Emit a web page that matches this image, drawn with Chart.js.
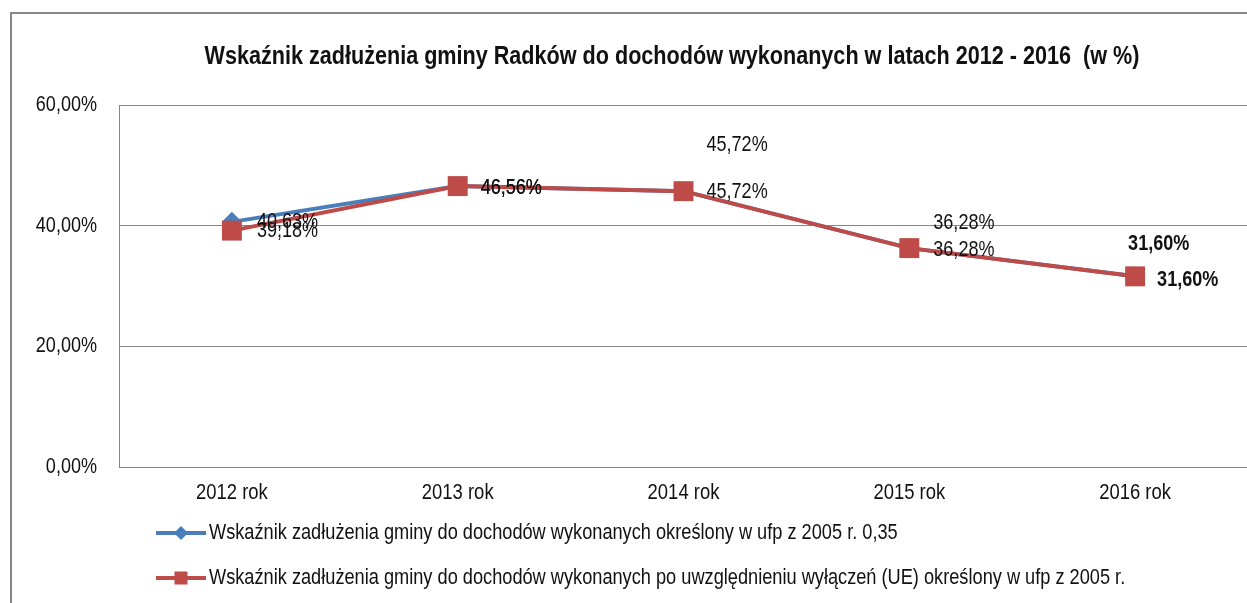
<!DOCTYPE html>
<html><head><meta charset="utf-8">
<script src="https://cdn.jsdelivr.net/npm/chart.js@4.4.0/dist/chart.umd.min.js"></script>
<style>
html,body{margin:0;padding:0;background:#fff;overflow:hidden;width:1247px;height:603px;}
#frame{position:absolute;left:10px;top:12px;width:1400px;height:700px;border-left:2px solid #878787;border-top:2px solid #878787;}
#wrap{position:absolute;left:0;top:0;width:1344px;height:603px;}
</style></head><body>
<div id="frame"></div>
<div id="wrap"><canvas id="c" width="1344" height="603"></canvas></div>
<script>
const titleText = 'Wskaźnik zadłużenia gminy Radków do dochodów wykonanych w latach 2012 - 2016  (w %)';
const categories = ['2012 rok', '2013 rok', '2014 rok', '2015 rok', '2016 rok'];
const seriesNames = [
  'Wskaźnik zadłużenia gminy do dochodów wykonanych określony w ufp z 2005 r. 0,35',
  'Wskaźnik zadłużenia gminy do dochodów wykonanych po uwzględnieniu wyłączeń (UE) określony w ufp z 2005 r.'
];
const blueValues = [40.63, 46.56, 45.72, 36.28, 31.60];
const redValues = [39.18, 46.56, 45.72, 36.28, 31.60];
const yTicks = [0, 20, 40, 60];

// label placement (style/layout only)
const blueLabelOffsets = [[25, 0], [23, 2], [23, -46], [24, -25], [-7, -32]];
const redLabelOffsets = [[25, 0], [23, 2], [23, 1], [24, 2], [22, 4]];
const boldLabel = [false, false, false, false, true];

const FONT = "'Liberation Sans', Arial, sans-serif";
const NARROW = 0.82;   // Arial Narrow look
const TEXT = '#111';
const BLUE = '#4A7EBB';
const RED = '#BE4B48';
const fmt = v => v.toFixed(2).replace('.', ',') + '%';

function narrowText(ctx, text, x, y, align, font, sx) {
  ctx.save();
  ctx.font = font;
  ctx.textAlign = align;
  ctx.textBaseline = 'middle';
  ctx.fillStyle = TEXT;
  ctx.translate(x, y);
  ctx.scale(sx, 1);
  ctx.fillText(text, 0, 0);
  ctx.restore();
}

const titlePlugin = {
  id: 'narrowTitle',
  afterDraw(chart) {
    const ctx = chart.ctx;
    const font = 'bold 26px ' + FONT;
    ctx.save();
    ctx.font = font;
    const w = ctx.measureText(titleText).width;
    ctx.restore();
    const sx = 935 / w;
    narrowText(ctx, titleText, chart.width / 2, 57, 'center', font, sx);
  }
};

const tickPlugin = {
  id: 'narrowTicks',
  afterDraw(chart) {
    const ctx = chart.ctx;
    const ys = chart.scales.y;
    ys.ticks.forEach((t, i) => {
      narrowText(ctx, fmt(t.value), ys.right - 22, ys.getPixelForTick(i), 'right', '22px ' + FONT, NARROW);
    });
    const xs = chart.scales.x;
    xs.ticks.forEach((t, i) => {
      narrowText(ctx, categories[i], xs.getPixelForTick(i), xs.top + 26, 'center', '22.5px ' + FONT, NARROW);
    });
  }
};

const labelPlugin = {
  id: 'valueLabels',
  afterDatasetsDraw(chart) {
    const ctx = chart.ctx;
    chart.data.datasets.forEach((ds, di) => {
      const meta = chart.getDatasetMeta(di);
      const offs = ds.labelOffsets;
      meta.data.forEach((pt, i) => {
        const font = (boldLabel[i] ? 'bold ' : '') + '22px ' + FONT;
        narrowText(ctx, fmt(ds.data[i]), pt.x + offs[i][0], pt.y + offs[i][1], 'left', font, NARROW);
      });
    });
  }
};

const legendPlugin = {
  id: 'customLegend',
  afterDraw(chart) {
    const ctx = chart.ctx;
    const L = chart.chartArea.left;
    const B = chart.chartArea.bottom;
    const rows = [B + 66, B + 111];
    chart.data.datasets.forEach((ds, i) => {
      const y = rows[i];
      ctx.save();
      ctx.strokeStyle = ds.borderColor;
      ctx.lineWidth = 4;
      ctx.beginPath();
      ctx.moveTo(L + 37, y);
      ctx.lineTo(L + 87, y);
      ctx.stroke();
      ctx.fillStyle = ds.borderColor;
      const cx = L + 62;
      ctx.beginPath();
      if (ds.pointStyle === 'rectRot') {
        ctx.moveTo(cx, y - 7); ctx.lineTo(cx + 7, y); ctx.lineTo(cx, y + 7); ctx.lineTo(cx - 7, y);
      } else {
        ctx.rect(cx - 6.5, y - 6.5, 13, 13);
      }
      ctx.closePath();
      ctx.fill();
      ctx.restore();
      narrowText(ctx, ds.label, L + 90, y, 'left', '22.2px ' + FONT, NARROW);
    });
  }
};

new Chart(document.getElementById('c'), {
  type: 'line',
  data: {
    labels: categories,
    datasets: [
      {
        label: seriesNames[0], data: blueValues, borderColor: BLUE, backgroundColor: BLUE,
        borderWidth: 4, pointStyle: 'rectRot', pointRadius: 10, pointBorderWidth: 0,
        pointBackgroundColor: BLUE, tension: 0, order: 2, labelOffsets: blueLabelOffsets
      },
      {
        label: seriesNames[1], data: redValues, borderColor: RED, backgroundColor: RED,
        borderWidth: 4, pointStyle: 'rect', pointRadius: 14.1, pointBorderWidth: 0,
        pointBackgroundColor: RED, tension: 0, order: 1, labelOffsets: redLabelOffsets
      }
    ]
  },
  options: {
    responsive: false,
    animation: false,
    devicePixelRatio: 1,
    layout: { padding: { left: 0, right: 96, top: 105, bottom: 0 } },
    plugins: {
      legend: { display: false },
      tooltip: { enabled: false },
      title: { display: false }
    },
    scales: {
      x: {
        type: 'category', offset: true,
        grid: { display: false, drawTicks: false },
        border: { display: false },
        ticks: { display: false },
        afterFit(axis) { axis.height = 136; }
      },
      y: {
        min: 0, max: 60,
        afterBuildTicks(axis) { axis.ticks = yTicks.map(v => ({ value: v })); },
        grid: { color: '#868686', lineWidth: 1, drawTicks: false },
        border: { display: true, color: '#868686', width: 1 },
        ticks: { display: false },
        afterFit(axis) { axis.width = 119; }
      }
    }
  },
  plugins: [labelPlugin, legendPlugin, tickPlugin, titlePlugin]
});
</script>
</body></html>
